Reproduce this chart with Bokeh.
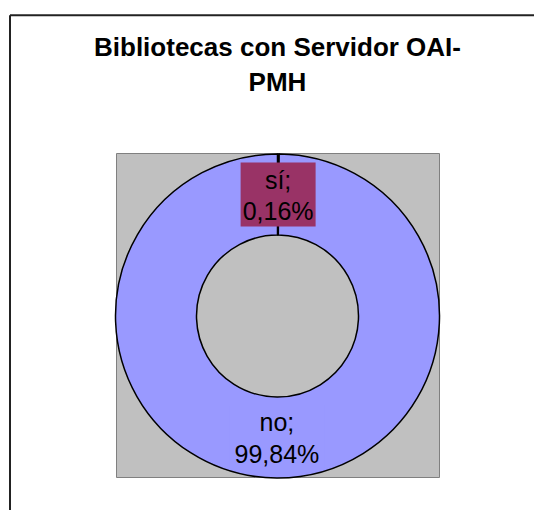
import math
from bokeh.plotting import figure
from bokeh.models import Range1d
from bokeh.core.properties import value
from bokeh.embed import file_html
from bokeh.resources import INLINE

# ---- data ----
title_lines = ["Bibliotecas con Servidor OAI-", "PMH"]
categories = ["sí", "no"]
percent = [0.16, 99.84]
percent_labels = ["0,16%", "99,84%"]
slice_colors = ["#993366", "#9999FF"]
label_box_widths = [75, 95]

FONT = value("Liberation Sans")

W, H = 534, 510
p = figure(width=W, height=H, x_range=Range1d(0, W), y_range=Range1d(0, H),
           output_backend="svg", toolbar_location=None, min_border=0,
           x_axis_type=None, y_axis_type=None)
p.grid.visible = False
p.outline_line_color = None
p.background_fill_color = "white"
p.border_fill_color = "white"


def Y(page_y):
    return H - page_y


# chart frame (only top and left edges visible in the window)
p.segment(x0=[9.5, 9.5], y0=[Y(14.7), Y(14.7)], x1=[545, 9.5], y1=[Y(14.7), Y(530)],
          line_color="#222222", line_width=2)

# title
p.text(x=[277, 277], y=[Y(46.5), Y(81.5)], text=title_lines, text_font=FONT,
       text_font_size="26px", text_font_style="bold", text_align="center",
       text_baseline="alphabetic", text_color="black")

# plot area
p.rect(x=[277.5], y=[Y(315)], width=[323], height=[324], fill_color="#C0C0C0",
       line_color="#808080", line_width=1)

# donut
cx, cy = 277, Y(315.5)
r_in, r_out = 81, 162
starts, ends, mids = [], [], []
a = 90.0
for v in percent:
    b = a - v / 100.0 * 360.0
    starts.append(math.radians(a))
    ends.append(math.radians(b))
    mids.append(math.radians((a + b) / 2))
    a = b

p.annular_wedge(x=[cx] * len(percent), y=[cy] * len(percent), inner_radius=r_in,
                outer_radius=r_out, start_angle=starts, end_angle=ends,
                direction="clock", fill_color=slice_colors, line_color="black",
                line_width=1.5)

# data labels
r_lab = (r_in + r_out) / 2
lx = [cx + r_lab * math.cos(m) for m in mids]
ly = [cy + r_lab * math.sin(m) for m in mids]
p.rect(x=lx, y=ly, width=label_box_widths, height=[64] * len(lx),
       fill_color=slice_colors, line_color=None)
p.text(x=lx, y=[v + 15 for v in ly], text=[c + ";" for c in categories],
       text_font=FONT, text_font_size="25px", text_align="center",
       text_baseline="alphabetic", text_color="black")
p.text(x=lx, y=[v - 16.7 for v in ly], text=percent_labels,
       text_font=FONT, text_font_size="25px", text_align="center",
       text_baseline="alphabetic", text_color="black")

open("out.html", "w").write(file_html(p, INLINE))
